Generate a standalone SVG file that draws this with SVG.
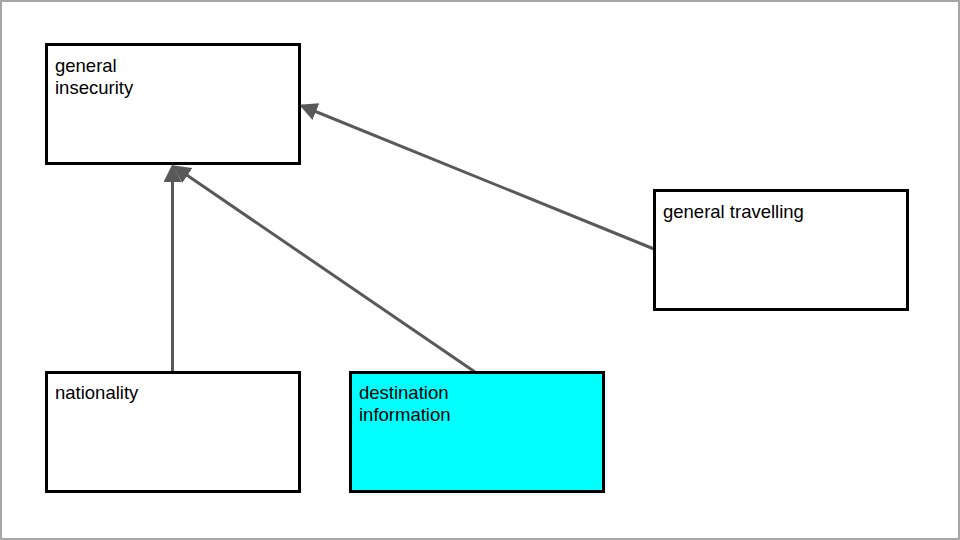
<svg xmlns="http://www.w3.org/2000/svg" width="960" height="540" viewBox="0 0 960 540">
  <style>
    .box { fill: #ffffff; stroke: #000000; stroke-width: 3; }
    .hl { fill: #00ffff; }
    .label { font-family: "Liberation Sans", Arial, sans-serif; font-size: 18.5px; fill: #000000; }
    .edge { stroke: #595959; stroke-width: 3; fill: none; marker-end: url(#arrow); }
  </style>
  <defs>
    <marker id="arrow" markerWidth="6" markerHeight="6" refX="5" refY="3" orient="auto" markerUnits="strokeWidth">
      <path d="M0,0 L6,3 L0,6 Z" fill="#595959"/>
    </marker>
  </defs>
  <rect x="1" y="1" width="958" height="538" fill="#ffffff" stroke="#a6a6a6" stroke-width="2"/>

  <g id="connectors">
    <line class="edge" x1="172.5" y1="372" x2="172.5" y2="167"/>
    <line class="edge" x1="475" y1="372" x2="175" y2="167"/>
    <line class="edge" x1="654" y1="249" x2="302" y2="106"/>
  </g>

  <g id="general-insecurity">
    <rect class="box" x="46.5" y="44.5" width="253" height="119"/>
    <text class="label" x="55" y="72">general</text>
    <text class="label" x="55" y="94">insecurity</text>
  </g>
  <g id="general-travelling">
    <rect class="box" x="654.5" y="190.5" width="253" height="119"/>
    <text class="label" x="663" y="218">general travelling</text>
  </g>
  <g id="nationality">
    <rect class="box" x="46.5" y="372.5" width="253" height="119"/>
    <text class="label" x="55" y="399">nationality</text>
  </g>
  <g id="destination-information">
    <rect class="box hl" x="350.5" y="372.5" width="253" height="119"/>
    <text class="label" x="359" y="399">destination</text>
    <text class="label" x="359" y="421">information</text>
  </g>
</svg>
